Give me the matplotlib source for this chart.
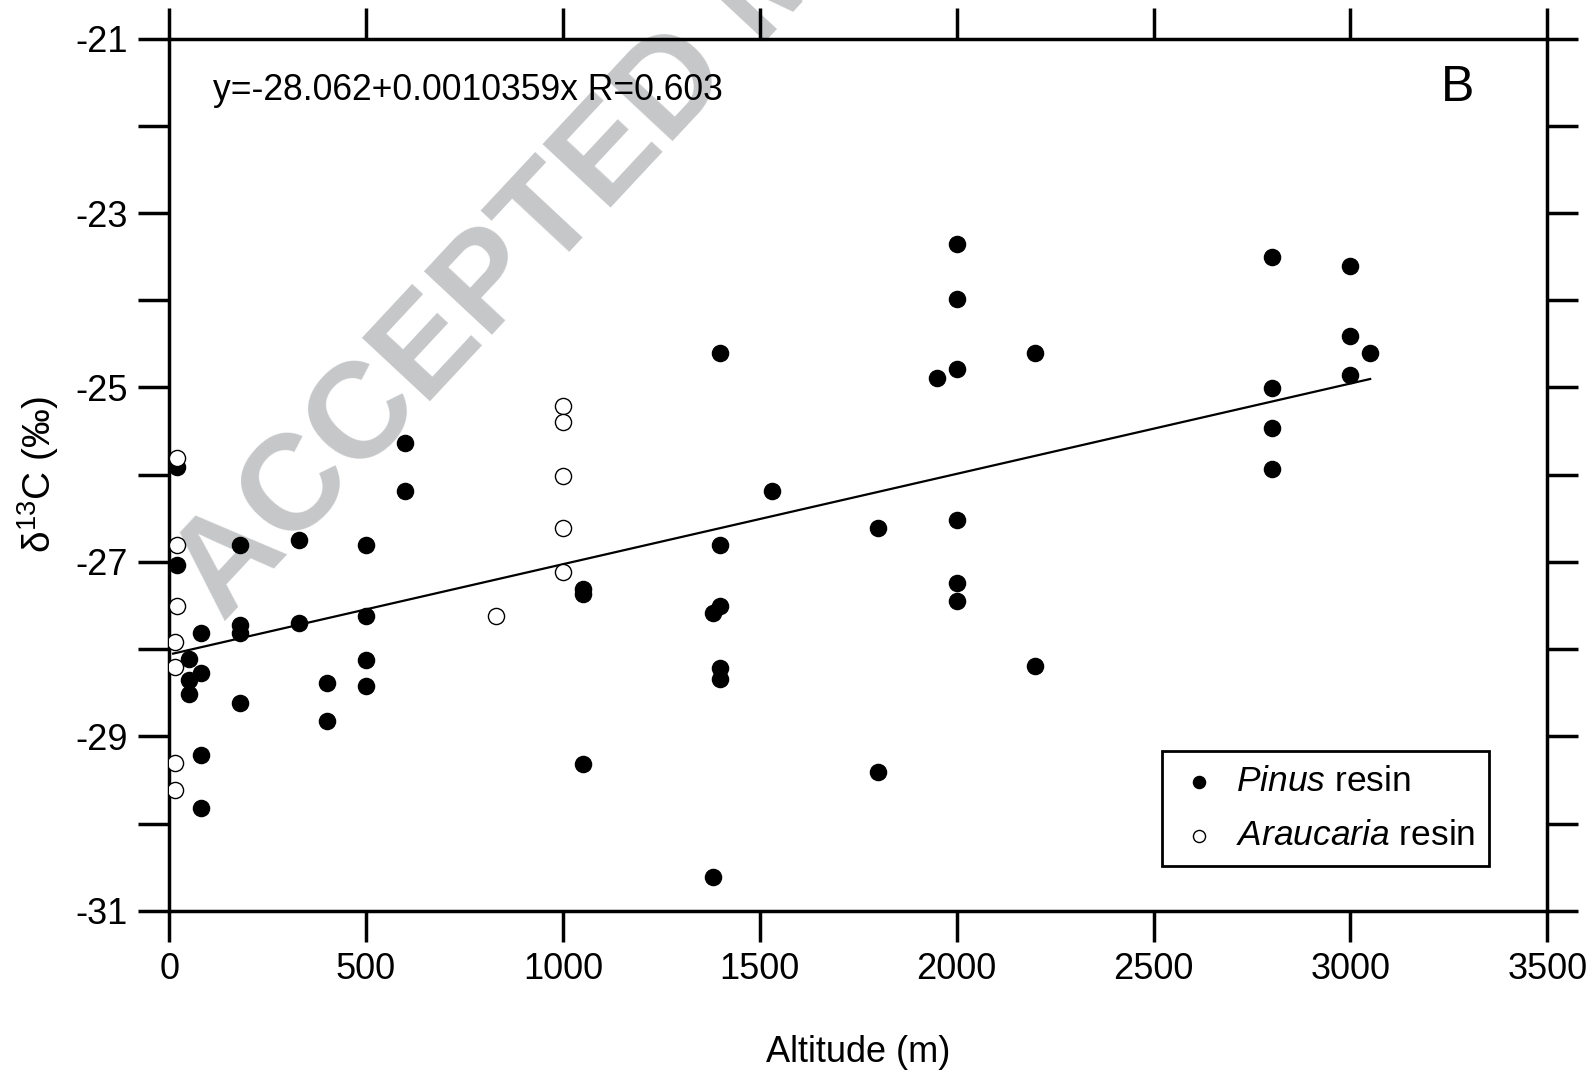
import numpy as np
import matplotlib
matplotlib.use("Agg")
import matplotlib.pyplot as plt
from matplotlib.ticker import MultipleLocator, FuncFormatter

plt.rcParams['font.family'] = ['Liberation Sans', 'DejaVu Sans']
plt.rcParams['mathtext.fontset'] = 'custom'
plt.rcParams['mathtext.rm'] = 'Liberation Sans'
plt.rcParams['mathtext.it'] = 'Liberation Sans:italic'

# Pinus resin: altitude (m) and d13C (permil)
pinus_alt = [20, 20, 80, 50, 80, 50, 50, 80, 80,
             180, 180, 180, 180, 330, 330, 400, 400,
             500, 500, 500, 500, 600, 600,
             1050, 1050, 1050,
             1400, 1400, 1380, 1400, 1400, 1400, 1380,
             1530, 1800, 1800, 1950,
             2000, 2000, 2000, 2000, 2000, 2000,
             2200, 2200,
             2800, 2800, 2800, 2800,
             3000, 3000, 3000, 3050]
pinus_d13c = [-25.91, -27.04, -27.81, -28.11, -28.27, -28.35, -28.51, -29.21, -29.82,
              -26.81, -27.72, -27.81, -28.62, -26.75, -27.70, -28.39, -28.82,
              -26.81, -27.62, -28.12, -28.42, -25.64, -26.19,
              -27.31, -27.37, -29.32,
              -24.61, -26.81, -27.59, -27.51, -28.22, -28.34, -30.61,
              -26.19, -26.61, -29.41, -24.89,
              -23.36, -23.99, -24.79, -26.52, -27.24, -27.45,
              -24.61, -28.19,
              -23.50, -25.01, -25.47, -25.94,
              -23.61, -24.41, -24.86, -24.61]

# Araucaria resin
arau_alt = [20, 20, 20, 15, 15, 15, 15, 830, 1000, 1000, 1000, 1000, 1000]
arau_d13c = [-25.81, -26.81, -27.51, -27.92, -28.21, -29.31, -29.61,
             -27.62, -25.21, -25.39, -26.01, -26.61, -27.11]

# linear fit reported on the plot
fit_a = -28.062
fit_b = 0.0010359
fit_r = 0.603
fit_x = np.array([10, 3050])

fig = plt.figure(figsize=(15.96, 10.74), dpi=100)
ax = fig.add_axes([0.106, 0.152, 0.8635, 0.812])

# watermark, kept behind the axes content
fig.text(0.140, 0.420, "ACCEPTED MANUSCRIPT", rotation=47, fontsize=98,
         fontweight='bold', color='#c6c7c9', ha='left', va='baseline',
         rotation_mode='anchor', zorder=-1)
ax.patch.set_alpha(0)

ax.plot(fit_x, fit_a + fit_b * fit_x, color='black', lw=1.6, zorder=2)
ax.scatter(pinus_alt, pinus_d13c, s=135, color='black', zorder=3,
           label=r'$\it{Pinus}$ resin')
ax.scatter(arau_alt, arau_d13c, s=135, facecolor='white', edgecolor='black',
           linewidths=1.0, zorder=3, label=r'$\it{Araucaria}$ resin')

ax.set_xlim(0, 3500)
ax.set_ylim(-31, -21)
ax.xaxis.set_major_locator(MultipleLocator(500))
ax.yaxis.set_major_locator(MultipleLocator(1))
ax.yaxis.set_major_formatter(FuncFormatter(
    lambda v, p: "%d" % v if int(round(v)) % 2 != 0 else ""))
ax.tick_params(direction='out', length=22, width=2.5, labelsize=26,
               top=True, right=True, pad=8)
for s in ax.spines.values():
    s.set_linewidth(2.5)

ax.set_xlabel("Altitude (m)", fontsize=26, labelpad=34)
ax.set_ylabel(r"δ$^{13}$C (‰)", fontsize=28, labelpad=10)

ax.text(0.032, 0.94, "y=-28.062+0.0010359x R=0.603", transform=ax.transAxes,
        fontsize=25.6, va='center', ha='left')
ax.text(0.935, 0.943, "B", transform=ax.transAxes, fontsize=36,
        va='center', ha='center')

leg = ax.legend(loc='lower right', bbox_to_anchor=(0.958, 0.051),
                borderaxespad=0, fontsize=25.5, markerscale=0.75,
                handletextpad=0.4, borderpad=0.4, labelspacing=0.6,
                handlelength=1.3, fancybox=False, edgecolor='black',
                framealpha=1)
leg.get_frame().set_linewidth(2.0)

fig.savefig("out.png", dpi=100)
